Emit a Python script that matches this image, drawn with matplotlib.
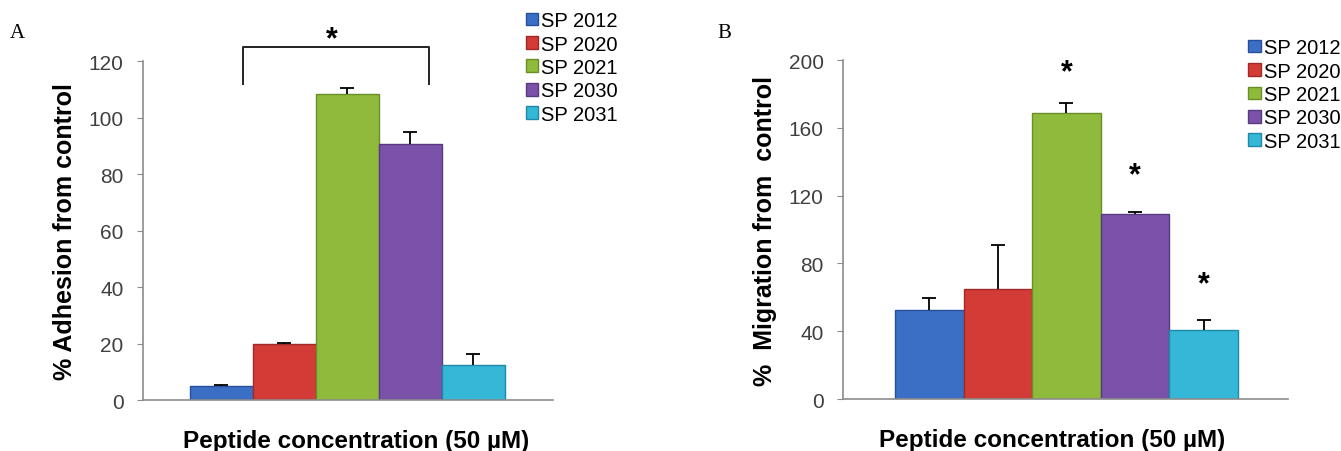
import numpy as np
import matplotlib.pyplot as plt
from matplotlib.patches import Patch

plt.rcParams['font.family'] = ['Liberation Sans', 'DejaVu Sans']

peptides = ['SP 2012', 'SP 2020', 'SP 2021', 'SP 2030', 'SP 2031']
colores = ['#3b6fc6', '#d23b36', '#8fba3c', '#7b52aa', '#35b7d8']
bordes = ['#28509a', '#a02a26', '#6a8e26', '#573a80', '#2089a6']

adhesion = [4.8, 20.0, 108.2, 90.5, 12.5]
adhesion_err = [0.6, 0.3, 2.2, 4.3, 3.8]

migracion = [52.5, 64.8, 168.5, 109.0, 41.0]
migracion_err = [7.0, 26.0, 6.0, 1.5, 5.5]

x = np.arange(len(peptides))

fig = plt.figure(figsize=(13.41, 4.52), dpi=100)
axA = fig.add_axes([0.1066, 0.1128, 0.3057, 0.75])
axB = fig.add_axes([0.6286, 0.115, 0.3318, 0.75])


def panel(ax, vals, errs, ymax, paso, ylabel, xlim, xlab_pos):
    ax.bar(x, vals, width=1.0, color=colores, edgecolor=bordes, linewidth=1.0)
    # solo la parte superior del error, tipo "T"
    eb = ax.errorbar(x, vals, yerr=[np.zeros(len(vals)), errs], fmt='none',
                     ecolor='black', elinewidth=1.3, capsize=5, capthick=1.3)
    eb[1][0].set_visible(False)
    ax.set_xlim(*xlim)
    ax.set_ylim(0, ymax)
    ax.set_yticks(np.arange(0, ymax + 1, paso))
    ax.set_xticks([])
    for s in ['top', 'right']:
        ax.spines[s].set_visible(False)
    for s in ['left', 'bottom']:
        ax.spines[s].set_color('#8c8c8c')
        ax.spines[s].set_linewidth(1.2)
    ax.tick_params(axis='y', length=4, color='#8c8c8c', labelsize=15,
                   labelcolor='#404040', pad=10)
    ax.set_ylabel(ylabel, fontsize=18, fontweight='bold', labelpad=8)
    ax.set_xlabel('Peptide concentration (50 µM)', fontsize=17.5,
                  fontweight='bold', labelpad=18)
    ax.xaxis.set_label_coords(xlab_pos, -0.085)


panel(axA, adhesion, adhesion_err, 120, 20, '% Adhesion from control',
      (-1.24, 5.26), 0.52)
panel(axB, migracion, migracion_err, 200, 40, '%  Migration from  control',
      (-1.26, 5.23), 0.47)

# corchete de significancia en A
axA.plot([0.34, 0.34, 3.29, 3.29], [111.8, 125.0, 125.0, 111.8],
         color='#222222', lw=1.4, clip_on=False)
axA.text(1.76, 122.5, '*', ha='center', va='bottom', fontsize=22,
         fontweight='bold', clip_on=False)

# asteriscos en B
estrellas = [(2, 184), (3, 123), (4, 59)]
for i, yv in estrellas:
    axB.text(i, yv, '*', ha='center', va='bottom', fontsize=22,
             fontweight='bold')

fig.text(0.007, 0.915, 'A', family='Liberation Serif', fontsize=15)
fig.text(0.535, 0.915, 'B', family='Liberation Serif', fontsize=15)

handles = [Patch(facecolor=c, edgecolor=b) for c, b in zip(colores, bordes)]
fig.legend(handles, peptides, loc='upper left', bbox_to_anchor=(0.383, 1.0),
           frameon=False, fontsize=14.5, handlelength=0.6, handleheight=0.6,
           handletextpad=0.15, labelspacing=0.22, borderaxespad=0.2)
fig.legend(handles, peptides, loc='upper left', bbox_to_anchor=(0.922, 0.94),
           frameon=False, fontsize=14.5, handlelength=0.6, handleheight=0.6,
           handletextpad=0.15, labelspacing=0.22, borderaxespad=0.2)

fig.savefig('out.png', dpi=100)
